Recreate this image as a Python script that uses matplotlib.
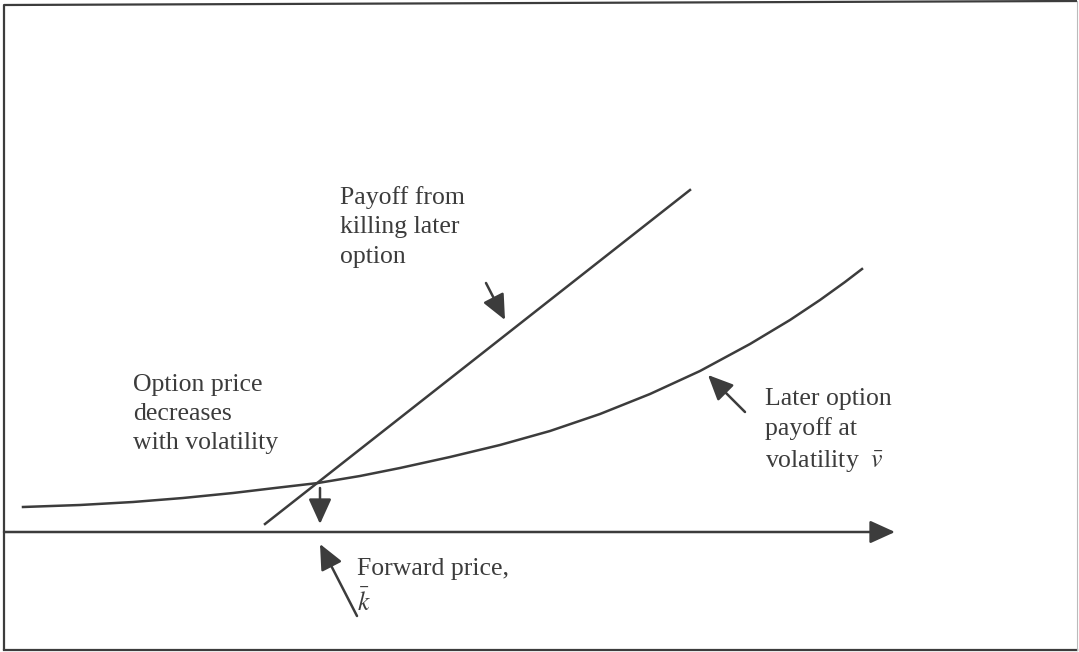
import matplotlib
matplotlib.use("Agg")
import matplotlib.pyplot as plt

# schematic data: x = underlying price, y = payoff height above the price axis
curve_x = [23, 80, 133, 183, 233, 275, 318, 360, 400, 450, 500, 550,
           600, 650, 700, 750, 790, 820, 845, 862]
curve_y = [25, 27, 30, 34, 39, 44, 49, 56, 64, 75, 87, 101,
           118, 138, 161, 188, 212, 232, 250, 263]

kill_x = [265, 690]
kill_y = [8, 342]

axis_x = [4, 895]
axis_y = [0, 0]

forward_x = 320
cross_y = 44

labels = {
    "kill": "Payoff from\nkilling later\noption",
    "price": "Option price\ndecreases\nwith volatility",
    "later": "Later option\npayoff at\nvolatility  $\\bar{v}$",
    "forward": "Forward price,\n$\\bar{k}$",
}

ink = "#3c3c3c"
plt.rcParams["font.family"] = ["Liberation Serif", "DejaVu Serif"]
plt.rcParams["mathtext.fontset"] = "stix"

fig = plt.figure(figsize=(10.79, 6.52), dpi=100)
ax = fig.add_axes([0, 0, 1, 1])
ax.set_xlim(0, 1079)
ax.set_ylim(-120, 532)
ax.axis("off")

# frame
ax.plot([4, 4, 1077], [-118, 527, 531], color=ink, lw=1.6, solid_capstyle="butt")
ax.plot([4, 1077], [-118, -118], color=ink, lw=1.6)
ax.plot([1077, 1077], [-118, 531], color="#bbbbbb", lw=0.8)

ax.plot(curve_x, curve_y, color=ink, lw=1.8)
ax.plot(kill_x, kill_y, color=ink, lw=1.8)

arrow = dict(arrowstyle="-|>,head_length=1.1,head_width=0.5", mutation_scale=14,
             color=ink, lw=1.8, shrinkA=0, shrinkB=0)

# price axis
ax.annotate("", xy=(axis_x[1], axis_y[1]), xytext=(axis_x[0], axis_y[0]), arrowprops=arrow)
# down arrow from crossing to axis
ax.annotate("", xy=(forward_x, 8), xytext=(forward_x, cross_y), arrowprops=arrow)
# pointer arrows
ax.annotate("", xy=(forward_x, -12), xytext=(357, -84), arrowprops=arrow)
ax.annotate("", xy=(505, 212), xytext=(486, 249), arrowprops=arrow)
ax.annotate("", xy=(708, 157), xytext=(745, 120), arrowprops=arrow)

fs = 18.5
ls = 1.42
ax.text(340, 305, labels["kill"], fontsize=fs, color=ink, va="center", ha="left", linespacing=ls)
ax.text(133, 118, labels["price"], fontsize=fs, color=ink, va="center", ha="left", linespacing=ls)
ax.text(765, 101, labels["later"], fontsize=fs, color=ink, va="center", ha="left", linespacing=ls)
ax.text(357, -55, labels["forward"], fontsize=fs, color=ink, va="center", ha="left", linespacing=ls)

fig.savefig("out.png", dpi=100)
